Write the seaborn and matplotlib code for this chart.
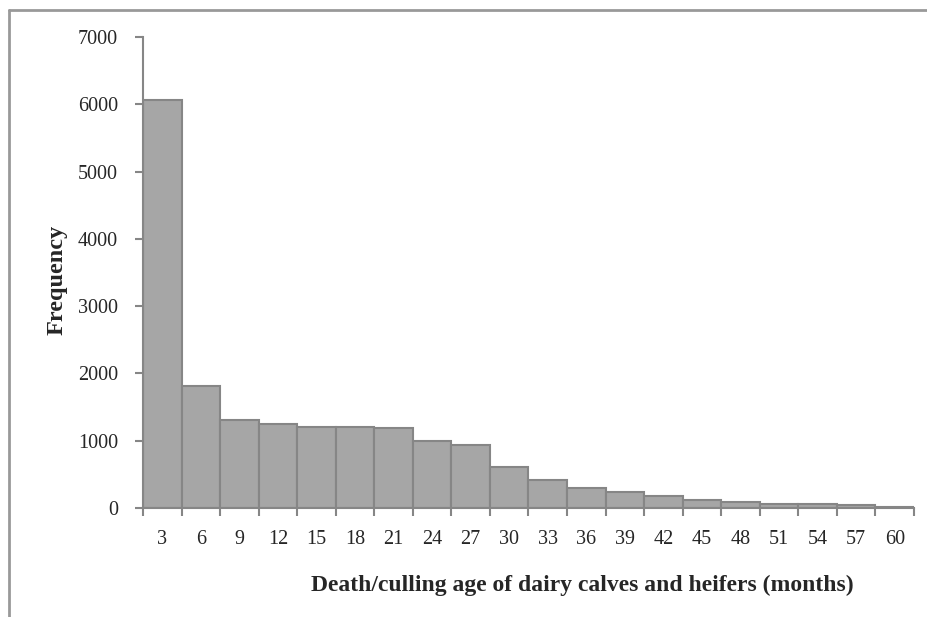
import numpy as np
import pandas as pd
import seaborn as sns
import matplotlib.pyplot as plt
from matplotlib.lines import Line2D

# Data
ages = [3, 6, 9, 12, 15, 18, 21, 24, 27, 30, 33, 36, 39, 42, 45, 48, 51, 54, 57, 60]
counts = [6060, 1815, 1315, 1245, 1205, 1200, 1195, 1000, 935, 615,
          420, 295, 245, 175, 120, 85, 62, 56, 42, 18]
y_ticks = [0, 1000, 2000, 3000, 4000, 5000, 6000, 7000]

df = pd.DataFrame({"age": [str(a) for a in ages], "freq": counts})

sns.set_style("white")
plt.rcParams['font.family'] = ['Liberation Serif', 'DejaVu Serif']

fig = plt.figure(figsize=(9.28, 6.17), dpi=100)
ax = fig.add_axes([143/928, 1 - 508/617, (914 - 143)/928, (508 - 37)/617])

grey = "#868686"
sns.barplot(data=df, x="age", y="freq", color="#a6a6a6", saturation=1,
            width=1.0, edgecolor=grey, linewidth=1.5, ax=ax)

ax.set_xlim(-0.5, len(ages) - 0.5)
ax.set_ylim(0, 7000)
ax.set_yticks(y_ticks)
ax.set_yticklabels([str(v) for v in y_ticks])

# x ticks at bar boundaries, labels centred on bars
ax.set_xticks(np.arange(-0.5, len(ages), 1), minor=True)
ax.tick_params(axis="x", which="major", length=0, pad=16, labelsize=14.5)
ax.tick_params(axis="x", which="minor", length=6, width=1.5, color=grey, direction="out", bottom=True)
ax.tick_params(axis="y", which="major", length=6, width=1.5, color=grey, direction="out",
               left=True, pad=12, labelsize=14.5)

for s in ["top", "right"]:
    ax.spines[s].set_visible(False)
for s in ["left", "bottom"]:
    ax.spines[s].set_color(grey)
    ax.spines[s].set_linewidth(1.5)

ax.set_xlabel("")
ax.set_ylabel("")
fig.text(57/928, 1 - 280/617, "Frequency", rotation=90, ha="center", va="center",
         fontsize=17.5, fontweight="bold")
fig.text(582/928, 1 - 585/617, "Death/culling age of dairy calves and heifers (months)",
         ha="center", va="center", fontsize=17, fontweight="bold")

# chart area border (top and left only visible)
fig.add_artist(Line2D([9/928, 1], [1 - 10/617, 1 - 10/617], transform=fig.transFigure,
                      color="#999999", linewidth=2))
fig.add_artist(Line2D([9/928, 9/928], [0, 1 - 10/617], transform=fig.transFigure,
                      color="#999999", linewidth=2))

plt.savefig("out.png", dpi=100)
